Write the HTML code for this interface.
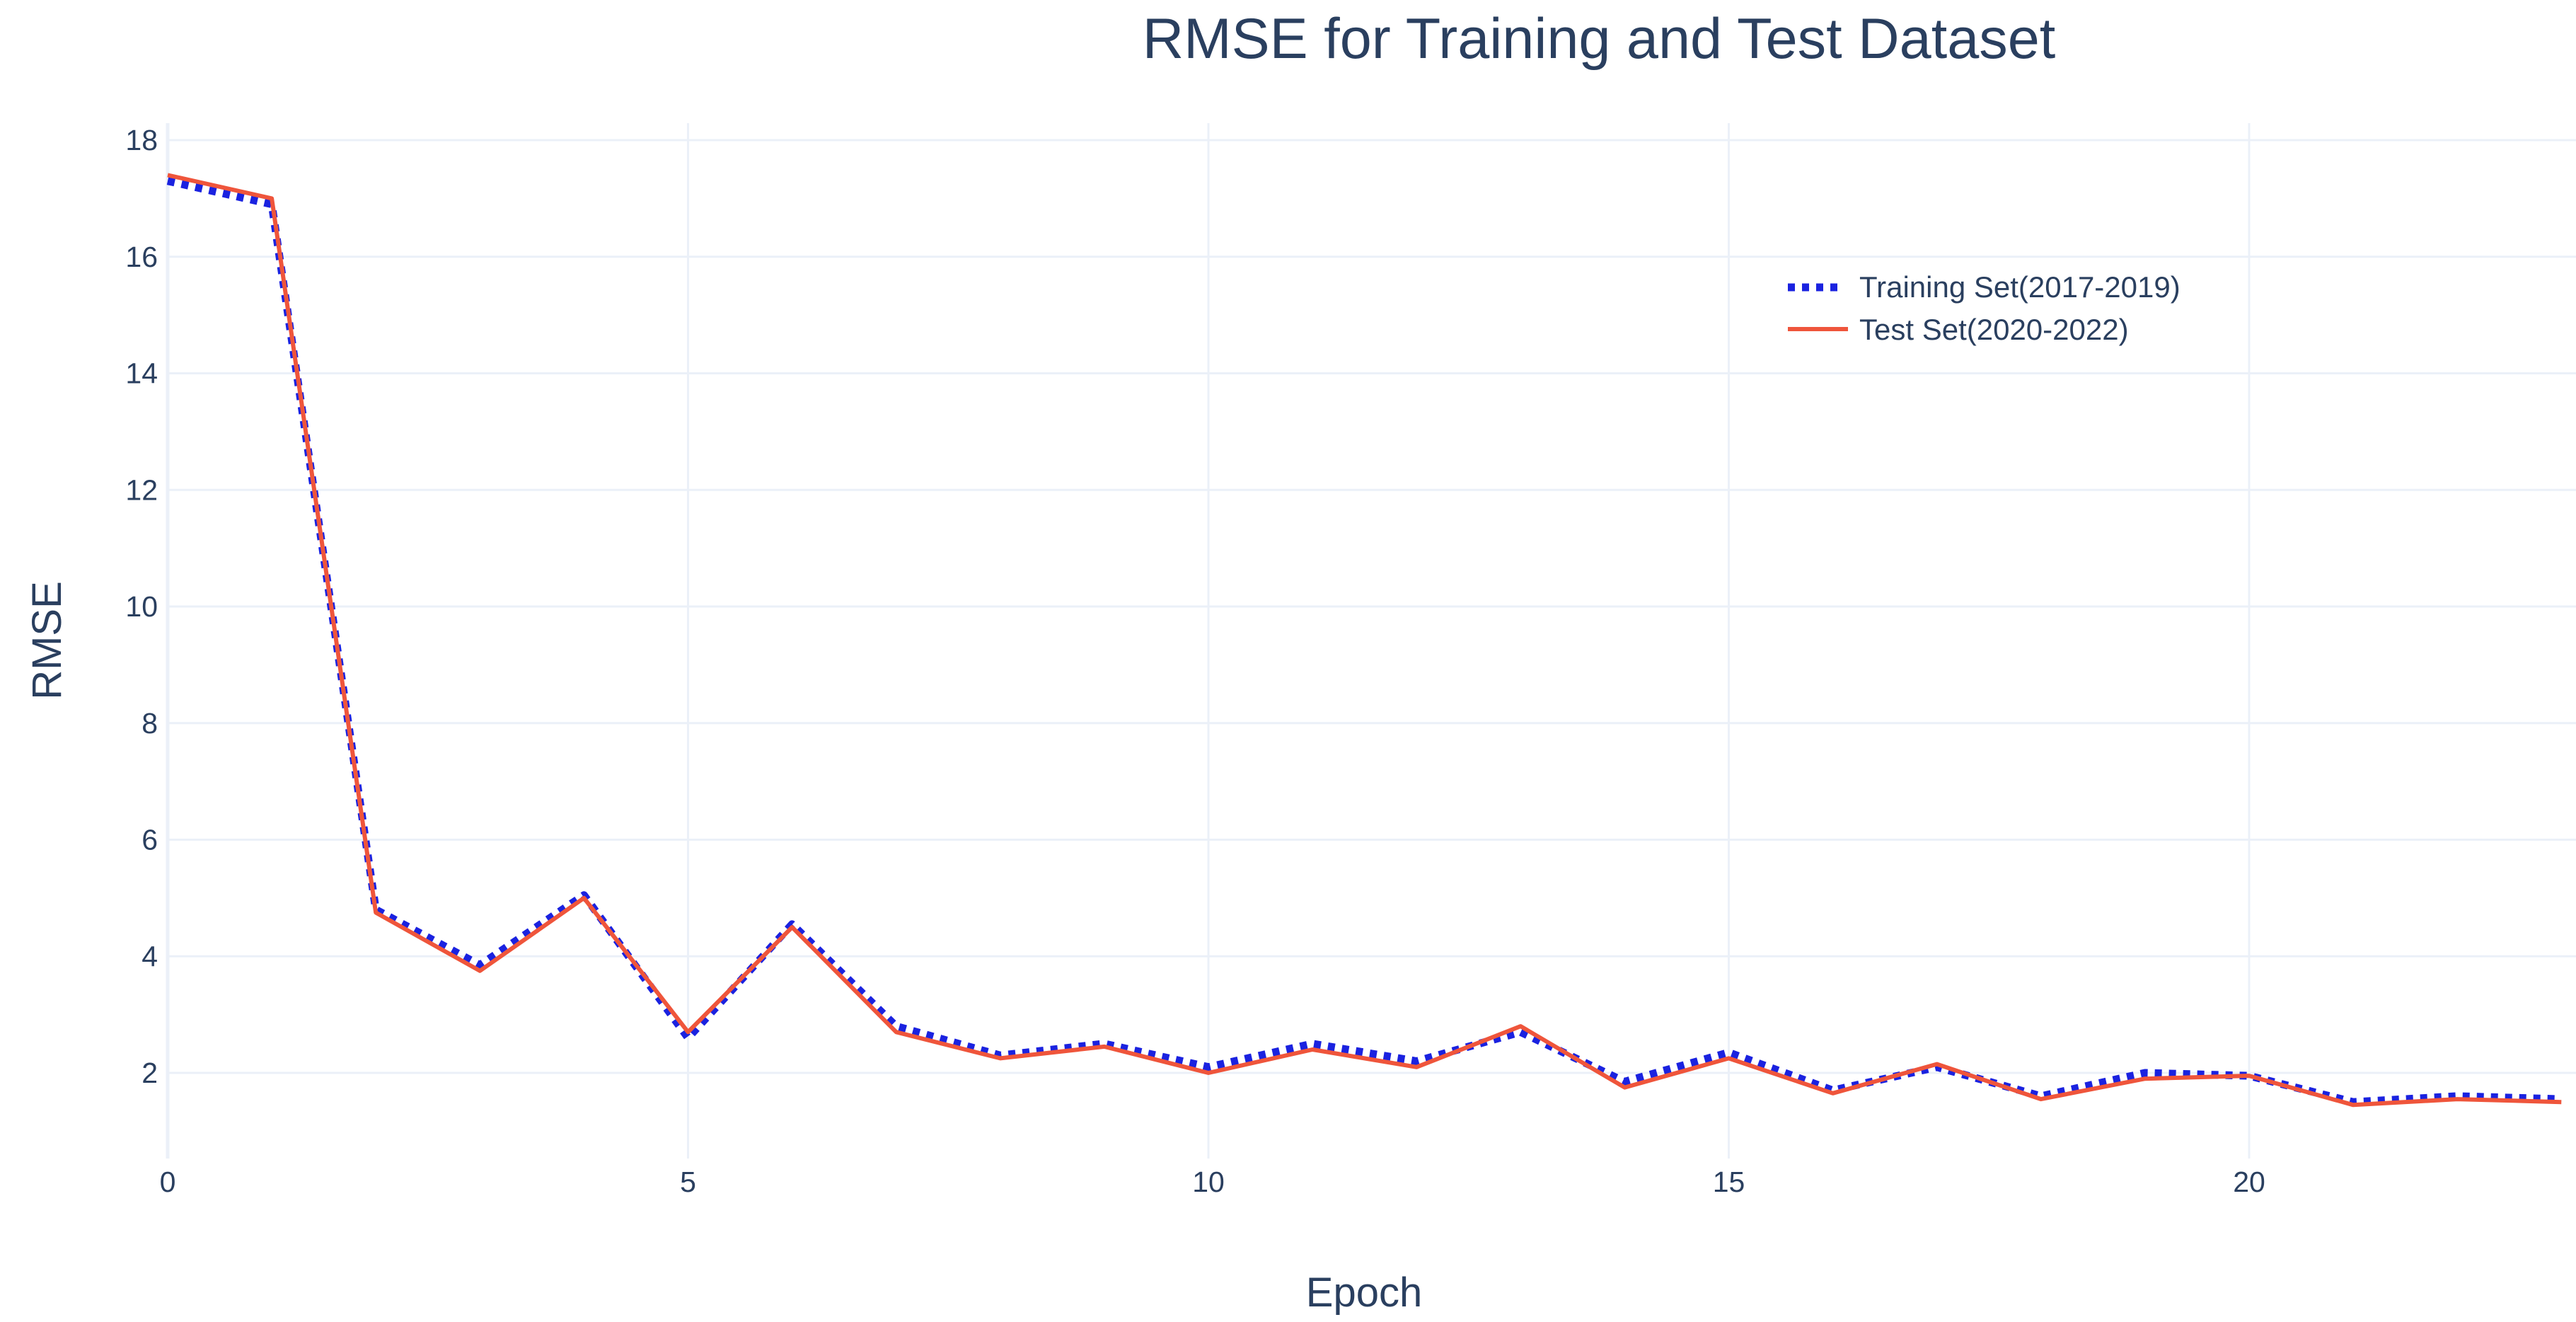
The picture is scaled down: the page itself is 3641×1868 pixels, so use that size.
<!DOCTYPE html>
<html><head><meta charset="utf-8"><style>
html,body{margin:0;padding:0;background:#fff;}
svg{display:block;font-family:"Liberation Sans",sans-serif;}
</style></head><body>
<svg id="chart" width="3641" height="1868" viewBox="0 0 3641 1868">
<rect width="3641" height="1868" fill="#fff"/>
<g id="grid"></g>
<g id="ticks"></g>
<g id="series"></g>
<text x="2260" y="82" font-size="81" fill="#2a3f5f" text-anchor="middle">RMSE for Training and Test Dataset</text>
<text x="1928" y="1846" font-size="58" fill="#2a3f5f" text-anchor="middle">Epoch</text>
<text x="0" y="0" font-size="58" fill="#2a3f5f" text-anchor="middle" transform="translate(86,905) rotate(-90)">RMSE</text>
<g>
<g>
<line x1="2527" y1="406" x2="2600" y2="406" stroke="#1a22e0" stroke-width="11" stroke-dasharray="10,10"/>
<text x="2628" y="420" font-size="42" fill="#2a3f5f">Training Set(2017-2019)</text>
</g>
<g>
<line x1="2527" y1="465" x2="2612" y2="465" stroke="#ef553b" stroke-width="6"/>
<text x="2628" y="480" font-size="42" fill="#2a3f5f">Test Set(2020-2022)</text>
</g>
</g>
</svg>
<script>
const epochs = [0,1,2,3,4,5,6,7,8,9,10,11,12,13,14,15,16,17,18,19,20,21,22,23];
const trainRmse = [17.3,16.9,4.8,3.85,5.05,2.6,4.55,2.8,2.3,2.5,2.1,2.5,2.2,2.7,1.85,2.35,1.7,2.1,1.6,2.0,1.95,1.5,1.6,1.55];
const testRmse = [17.4,17.0,4.75,3.75,5.0,2.7,4.5,2.7,2.25,2.45,2.0,2.4,2.1,2.8,1.75,2.25,1.65,2.15,1.55,1.9,1.95,1.45,1.55,1.5];
const xTicks = [0,5,10,15,20];
const yTicks = [2,4,6,8,10,12,14,16,18];

const NS = "http://www.w3.org/2000/svg";
const X0 = 237, XU = 147.1, PLOT_L = 237, PLOT_R = 3641, PLOT_T = 174, PLOT_B = 1637;
function xs(v){ return X0 + v*XU; }
function ys(v){ return 198 + (18 - v)*82.375; }
function mk(tag, attrs, parent){
  const el = document.createElementNS(NS, tag);
  for (const k in attrs) el.setAttribute(k, attrs[k]);
  parent.appendChild(el);
  return el;
}
const grid = document.getElementById('grid');
const ticks = document.getElementById('ticks');
const series = document.getElementById('series');

yTicks.forEach(t => {
  const l = mk('line', {x1:PLOT_L, x2:PLOT_R, y1:ys(t), y2:ys(t), stroke:'#ebf0f8', 'stroke-width':3}, grid);
  
  
  const tx = mk('text', {x:PLOT_L-14, y:ys(t)+14, 'font-size':41, fill:'#2a3f5f', 'text-anchor':'end'}, ticks);
  tx.textContent = t;
  
  
});
xTicks.forEach(t => {
  const l = mk('line', {x1:xs(t), x2:xs(t), y1:PLOT_T, y2:PLOT_B, stroke:'#ebf0f8', 'stroke-width': t===0?5:3}, grid);
  
  
  const tx = mk('text', {x:xs(t), y:1684, 'font-size':41, fill:'#2a3f5f', 'text-anchor':'middle'}, ticks);
  tx.textContent = t;
  
  
});
function pts(arr){ return epochs.map((e,i)=>xs(e).toFixed(1)+','+ys(arr[i]).toFixed(1)).join(' '); }
const tr = mk('polyline', {points:pts(trainRmse), fill:'none', stroke:'#1a22e0', 'stroke-width':11, 'stroke-dasharray':'10,10', 'stroke-linejoin':'round'}, series);


const te = mk('polyline', {points:pts(testRmse), fill:'none', stroke:'#ef553b', 'stroke-width':6, 'stroke-linejoin':'round'}, series);


</script>
</body></html>
